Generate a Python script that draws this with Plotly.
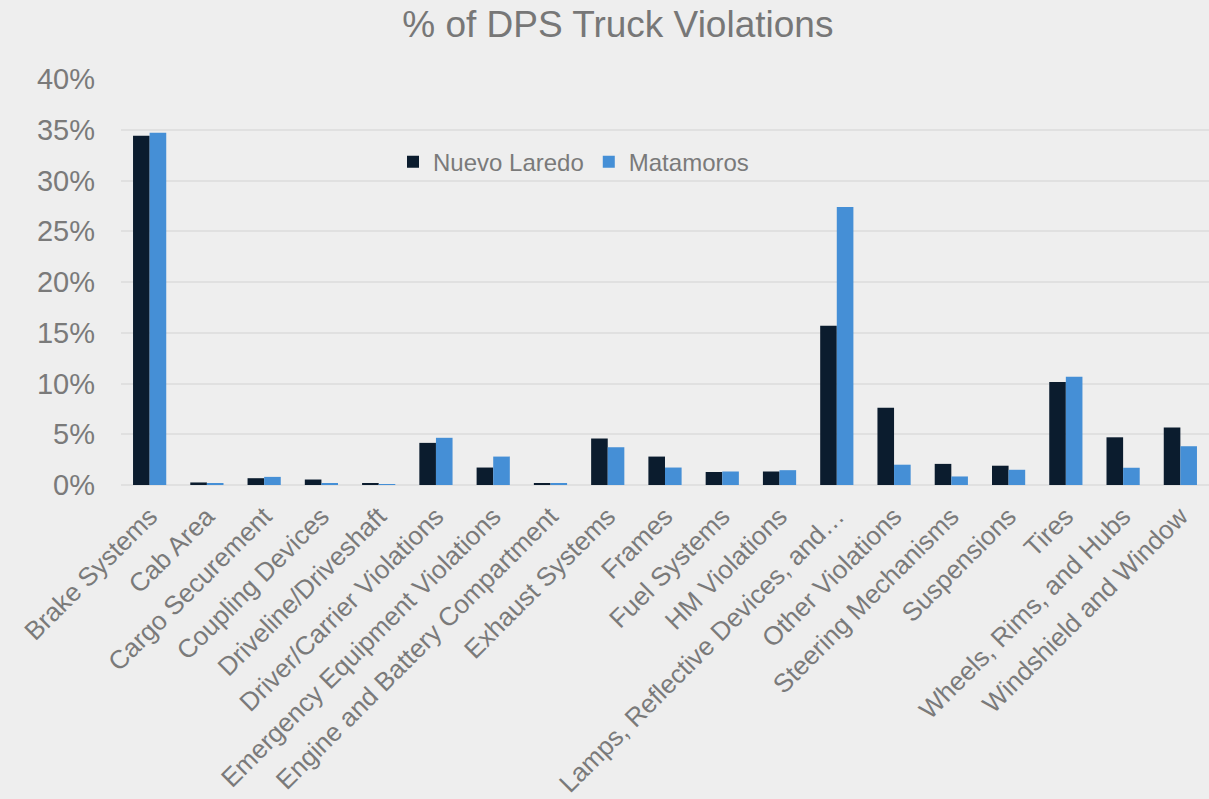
import plotly.graph_objects as go

categories = [
    "Brake Systems", "Cab Area", "Cargo Securement", "Coupling Devices",
    "Driveline/Driveshaft", "Driver/Carrier Violations",
    "Emergency Equipment Violations", "Engine and Battery Compartment",
    "Exhaust Systems", "Frames", "Fuel Systems", "HM Violations",
    "Lamps, Reflective Devices, and…", "Other Violations",
    "Steering Mechanisms", "Suspensions", "Tires",
    "Wheels, Rims, and Hubs", "Windshield and Window",
]
nuevo_laredo = [34.4, 0.25, 0.67, 0.54, 0.1, 4.15, 1.72, 0.1, 4.58, 2.8,
                1.28, 1.33, 15.7, 7.6, 2.08, 1.9, 10.15, 4.7, 5.66]
matamoros = [34.7, 0.2, 0.8, 0.15, 0.08, 4.65, 2.8, 0.1, 3.72, 1.72,
             1.33, 1.46, 27.4, 2.0, 0.84, 1.5, 10.67, 1.7, 3.82]
y_ticks = [0, 5, 10, 15, 20, 25, 30, 35, 40]

fig = go.Figure()
fig.add_trace(go.Bar(x=categories, y=nuevo_laredo, name="Nuevo Laredo",
                     marker=dict(color="#0b1c2e", line=dict(width=0))))
fig.add_trace(go.Bar(x=categories, y=matamoros, name="Matamoros",
                     marker=dict(color="#458fd6", line=dict(width=0))))

fig.update_layout(
    width=1209, height=799,
    paper_bgcolor="#eeeeee", plot_bgcolor="#eeeeee",
    font=dict(family="Liberation Sans, Arial, sans-serif", color="#7a7a7a"),
    title=dict(text="% of DPS Truck Violations", x=0.511, xanchor="center",
               y=0.97, yanchor="middle", font=dict(size=37, color="#777777")),
    barmode="group", bargap=0.42, bargroupgap=0,
    margin=dict(l=121, r=0, t=79, b=314),
    legend=dict(orientation="h", x=0.25, y=0.795, xanchor="left", yanchor="middle",
                font=dict(size=24, color="#7a7a7a"), bgcolor="rgba(0,0,0,0)",
                itemwidth=30, traceorder="normal"),
    showlegend=True,
)
fig.update_yaxes(range=[0, 40], tickvals=y_ticks,
                 ticktext=[f"{v}%" for v in y_ticks],
                 showgrid=True, gridcolor="#e0e0e0", gridwidth=1.5,
                 zeroline=True, zerolinecolor="#e0e0e0", zerolinewidth=1.5,
                 tickfont=dict(size=29, color="#7a7a7a"), ticks="", ticklen=0,
                 ticklabelstandoff=25)
fig.update_xaxes(tickangle=-45, tickfont=dict(size=26, color="#7a7a7a"),
                 showline=False, showgrid=False, ticks="",
                 ticklabelstandoff=10)

fig.write_html("out.html", config={"displayModeBar": False},
               post_script="document.body.style.margin='0';")
